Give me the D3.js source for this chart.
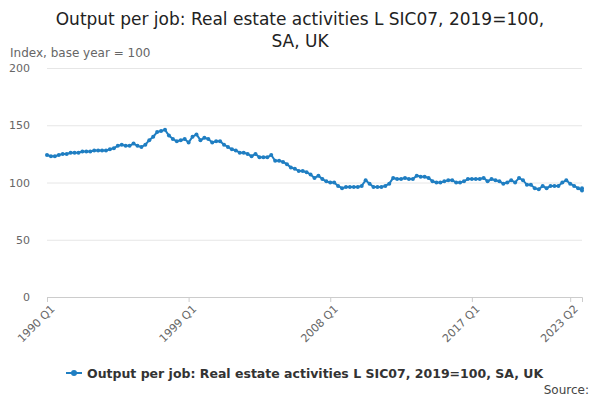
<!DOCTYPE html>
<html><head><meta charset="utf-8">
<script src="https://cdn.jsdelivr.net/npm/d3@7"></script>
<style>body{margin:0;font-family:"DejaVu Sans",sans-serif;background:#fff}</style>
</head><body><svg id="c" width="600" height="400"></svg>
<script>
const years = d3.range(1990, 2024);
const values = [
124,123,123,124, 125,125,126,126, 126,127,127,127, 128,128,128,128,
129,130,132,133, 132,132,134,132, 131,133,137,140, 144,145,146,141,
138,136,137,138, 135,140,142,137, 139,138,135,136, 136,133,131,129,
128,126,126,125, 123,125,122,122, 122,124,119,119, 118,116,113,112,
110,110,109,107, 104,106,103,101, 100,100,97,95, 96,96,96,96,
97,102,99,96, 96,96,97,99, 104,103,103,104, 103,103,106,105,
105,104,101,100, 100,101,102,102, 100,100,101,103, 103,103,103,104,
101,103,102,101, 99,100,102,100, 104,102,98,98, 95,94,97,95,
97,97,97,100, 102,99,97,95, 93,95];
const labels = [];
years.forEach(y => [1,2,3,4].forEach(q => labels.push(y + " Q" + q)));
const data = values.map((v, i) => ({label: labels[i], v}));
const tickLabels = ["1990 Q1", "1999 Q1", "2008 Q1", "2017 Q1", "2023 Q2"];
const yTicks = [0, 50, 100, 150, 200];
const seriesName = "Output per job: Real estate activities L SIC07, 2019=100, SA, UK";

const svg = d3.select("#c");
const x = d3.scalePoint().domain(data.map(d => d.label)).range([47, 582]);
const y = d3.scaleLinear().domain([0, 200]).range([297, 68]);

svg.append("text").attr("x", 300).attr("y", 25).attr("text-anchor", "middle")
  .attr("font-size", 17).attr("fill", "#222").text("Output per job: Real estate activities L SIC07, 2019=100,");
svg.append("text").attr("x", 300).attr("y", 47).attr("text-anchor", "middle")
  .attr("font-size", 17).attr("fill", "#222").text("SA, UK");
svg.append("text").attr("x", 10).attr("y", 57).attr("font-size", 12).attr("fill", "#666")
  .text("Index, base year = 100");

const ga = svg.append("g").attr("transform", "translate(47,0)")
  .call(d3.axisLeft(y).tickValues(yTicks).tickSize(-535).tickPadding(17));
ga.select(".domain").remove();
ga.selectAll("line").attr("stroke", "#e6e6e6");
ga.selectAll("text").attr("font-size", 11).attr("fill", "#666").attr("font-family", "DejaVu Sans");

const gx = svg.append("g").attr("transform", "translate(0,297)")
  .call(d3.axisBottom(x).tickValues(tickLabels).tickSize(5));
gx.select(".domain").attr("stroke", "#ccc");
gx.selectAll("line").attr("stroke", "#ccc");
gx.selectAll("text").attr("font-size", 11).attr("fill", "#666").attr("font-family", "DejaVu Sans")
  .attr("text-anchor", "end").attr("transform", "rotate(-45)").attr("dx", "-0.3em").attr("dy", "0.6em");

const col = "#1f7ec2";
svg.append("path").datum(data).attr("fill", "none").attr("stroke", col).attr("stroke-width", 2)
  .attr("d", d3.line().x(d => x(d.label)).y(d => y(d.v)));
svg.append("g").selectAll("circle").data(data).join("circle")
  .attr("cx", d => x(d.label)).attr("cy", d => y(d.v)).attr("r", 2).attr("fill", col);

const lg = svg.append("g").attr("transform", "translate(66,373)");
lg.append("line").attr("x1", 0).attr("x2", 16).attr("stroke", col).attr("stroke-width", 2);
lg.append("circle").attr("cx", 8).attr("r", 3).attr("fill", col);
lg.append("text").attr("x", 21).attr("y", 4.5).attr("font-size", 12.5).attr("font-weight", "bold")
  .attr("fill", "#333").text(seriesName);
svg.append("text").attr("x", 589).attr("y", 394).attr("text-anchor", "end").attr("font-size", 12)
  .attr("fill", "#444").text("Source:");
</script></body></html>
